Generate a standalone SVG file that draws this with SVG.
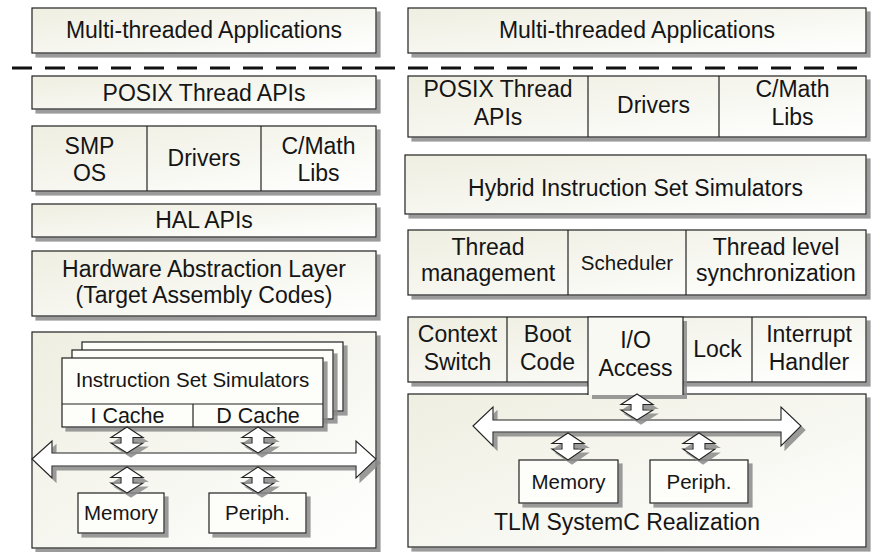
<svg xmlns="http://www.w3.org/2000/svg" width="871" height="552" viewBox="0 0 871 552">
<defs>
<linearGradient id="g" x1="0" y1="0" x2="1" y2="1">
<stop offset="0" stop-color="#eeeee1"/>
<stop offset="1" stop-color="#ffffff"/>
</linearGradient>
<filter id="sh" x="-10%" y="-10%" width="130%" height="140%">
<feDropShadow dx="4" dy="4" stdDeviation="0.7" flood-color="#8a8a8a" flood-opacity="0.85"/>
</filter>
<style>
.b{fill:url(#g);stroke:#222;stroke-width:1.2;filter:url(#sh)}
.w{fill:#fdfdfa;stroke:#222;stroke-width:1.2;filter:url(#sh)}
.l{stroke:#222;stroke-width:1.2;fill:none}
.a{fill:#ffffff;stroke:#222;stroke-width:1.1;filter:url(#sh)}
text{font-family:"Liberation Sans",Arial,sans-serif;font-size:23px;fill:#151515;text-anchor:middle}
.s{font-size:20.5px}
</style>
</defs>

<g id="left-apps">
<rect class="b" x="32" y="8" width="344" height="45"/>
<text x="204" y="38">Multi-threaded Applications</text>
</g>
<g id="right-apps">
<rect class="b" x="408" y="8" width="458" height="45"/>
<text x="637" y="38">Multi-threaded Applications</text>
</g>

<g id="divider">
<line x1="12" y1="68" x2="866" y2="68" stroke="#111" stroke-width="3" stroke-dasharray="20 13"/>
</g>

<!-- Left stack -->
<g id="left-posix">
<rect class="b" x="32" y="76" width="344" height="33"/>
<text x="204" y="101">POSIX Thread APIs</text>
</g>
<g id="left-os-row">
<rect class="b" x="32" y="126" width="344" height="65"/>
<line class="l" x1="147" y1="126" x2="147" y2="191"/>
<line class="l" x1="261" y1="126" x2="261" y2="191"/>
<text x="89.5" y="154">SMP</text>
<text x="89.5" y="181">OS</text>
<text x="204" y="166">Drivers</text>
<text x="318.5" y="154">C/Math</text>
<text x="318.5" y="181">Libs</text>
</g>
<g id="left-hal-apis">
<rect class="b" x="32" y="204" width="344" height="33"/>
<text x="204" y="228">HAL APIs</text>
</g>
<g id="left-hal">
<rect class="b" x="32" y="251" width="344" height="65"/>
<text x="204" y="277">Hardware Abstraction Layer</text>
<text x="204" y="303">(Target Assembly Codes)</text>
</g>
<g id="left-platform">
<rect class="b" x="32" y="332" width="344" height="216"/>
</g>
<g id="left-iss">
<rect class="w" x="82" y="342" width="261" height="69"/>
<rect class="w" x="72" y="350" width="261" height="69"/>
<rect class="w" x="62" y="358" width="261" height="69"/>
<line class="l" x1="62" y1="404" x2="323" y2="404"/>
<line class="l" x1="193" y1="404" x2="193" y2="427"/>
<text class="s" x="192.5" y="387">Instruction Set Simulators</text>
<text x="127.5" y="423" style="font-size:21.5px">I Cache</text>
<text x="258" y="423" style="font-size:21.5px">D Cache</text>
</g>
<g id="left-memory">
<rect class="w" x="78" y="493" width="86" height="40"/>
<text class="s" x="121" y="520">Memory</text>
</g>
<g id="left-periph">
<rect class="w" x="209" y="493" width="97" height="40"/>
<text class="s" x="257.5" y="520">Periph.</text>
</g>

<!-- Right stack -->
<g id="right-api-row">
<rect class="b" x="408" y="76" width="458" height="61"/>
<line class="l" x1="588" y1="76" x2="588" y2="137"/>
<line class="l" x1="719" y1="76" x2="719" y2="137"/>
<text x="498" y="97">POSIX Thread</text>
<text x="498" y="125">APIs</text>
<text x="653.5" y="113">Drivers</text>
<text x="792.5" y="97">C/Math</text>
<text x="792.5" y="125">Libs</text>
</g>
<g id="right-hiss">
<rect class="b" x="405" y="155" width="461" height="59"/>
<text x="635.5" y="196">Hybrid Instruction Set Simulators</text>
</g>
<g id="right-thread-row">
<rect class="b" x="408" y="230" width="458" height="65"/>
<line class="l" x1="568" y1="230" x2="568" y2="295"/>
<line class="l" x1="686" y1="230" x2="686" y2="295"/>
<text x="488" y="255">Thread</text>
<text x="488" y="281">management</text>
<text class="s" x="627" y="270">Scheduler</text>
<text x="776" y="255">Thread level</text>
<text x="776" y="281">synchronization</text>
</g>
<g id="right-tlm">
<rect class="b" x="408" y="394" width="458" height="153"/>
<text x="627" y="530">TLM SystemC Realization</text>
</g>
<g id="right-hal-row">
<rect class="b" x="408" y="317" width="458" height="65"/>
<path d="M588,317 H683 V395 H588 Z" fill="#f9f9f4" stroke="none" filter="url(#sh)"/>
<path d="M588,395 V317 H683 V395" class="l"/>
<line class="l" x1="507" y1="317" x2="507" y2="382"/>
<line class="l" x1="752" y1="317" x2="752" y2="382"/>
<text x="457.5" y="342">Context</text>
<text x="457.5" y="370">Switch</text>
<text x="547.5" y="342">Boot</text>
<text x="547.5" y="370">Code</text>
<text x="635.5" y="348">I/O</text>
<text x="635.5" y="376">Access</text>
<text x="717.5" y="357">Lock</text>
<text x="809" y="342">Interrupt</text>
<text x="809" y="370">Handler</text>
</g>
<g id="right-memory">
<rect class="w" x="519" y="460" width="99" height="43"/>
<text class="s" x="568.5" y="489">Memory</text>
</g>
<g id="right-periph">
<rect class="w" x="650" y="460" width="98" height="43"/>
<text class="s" x="699" y="489">Periph.</text>
</g>

<g id="connectors">
<polygon class="a" points="32,459 52,441 52,453 356,453 356,441 376,459 356,478 356,466 52,466 52,478"/>
<polygon class="a" points="127,427 143,437.5 133,437.5 133,443 143,443 127,453 111,443 121,443 121,437.5 111,437.5"/>
<polygon class="a" points="258,427 274,437.5 264,437.5 264,443 274,443 258,453 242,443 252,443 252,437.5 242,437.5"/>
<polygon class="a" points="127,467 143,477.5 133,477.5 133,483 143,483 127,493 111,483 121,483 121,477.5 111,477.5"/>
<polygon class="a" points="258,467 274,477.5 264,477.5 264,483 274,483 258,493 242,483 252,483 252,477.5 242,477.5"/>
<polygon class="a" points="473,426 493,407 493,420 781,420 781,407 801,426 781,446 781,432 493,432 493,446"/>
<polygon class="a" points="637,394 653,404.5 643,404.5 643,410 653,410 637,420 621,410 631,410 631,404.5 621,404.5"/>
<polygon class="a" points="568,433 584,443.5 574,443.5 574,449 584,449 568,460 552,449 562,449 562,443.5 552,443.5"/>
<polygon class="a" points="699,433 715,443.5 705,443.5 705,449 715,449 699,460 683,449 693,449 693,443.5 683,443.5"/>
</g>
</svg>
